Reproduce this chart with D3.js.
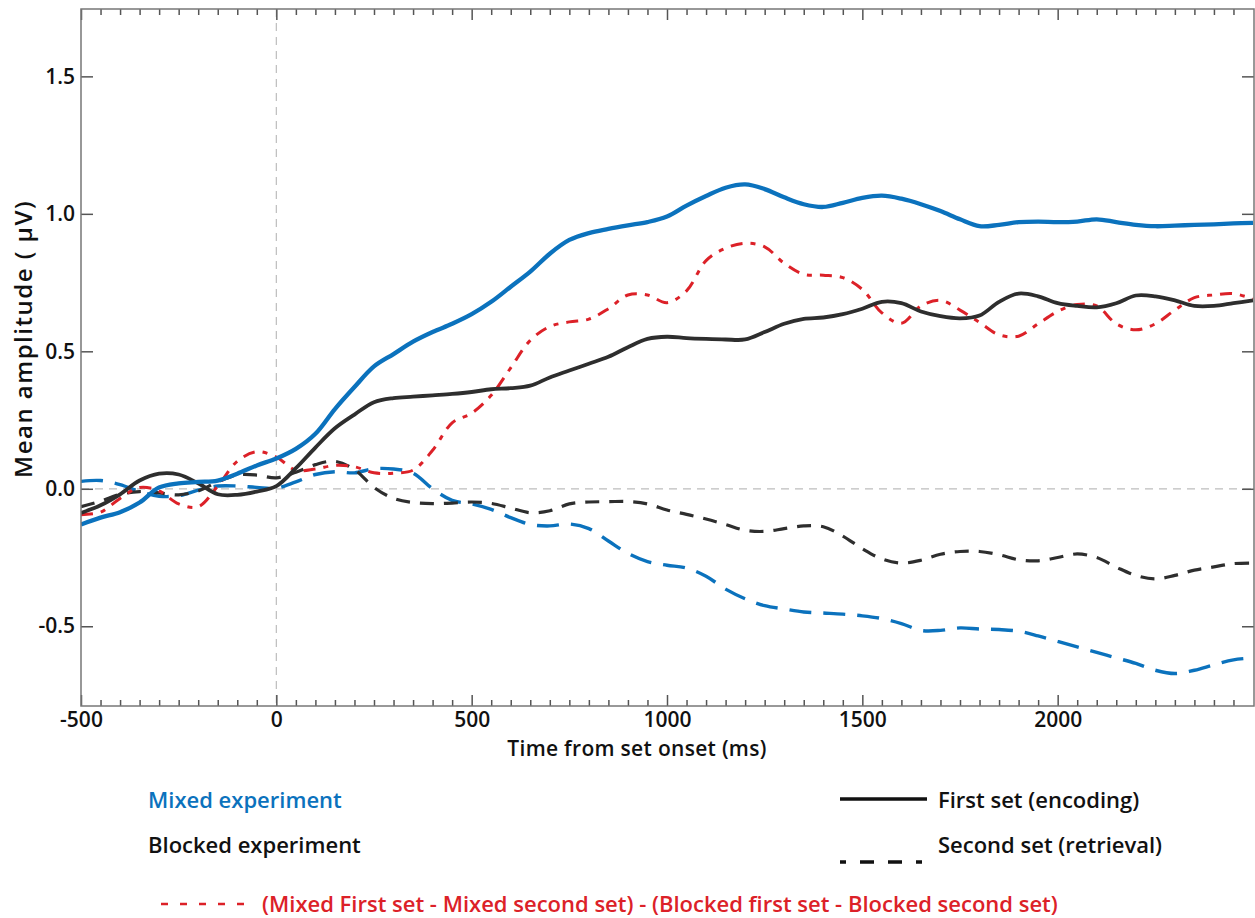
<!DOCTYPE html>
<html>
<head>
<meta charset="utf-8">
<script src="https://cdn.jsdelivr.net/npm/d3@7"></script>
<style>
  body { margin: 0; background: #fff; }
  svg { display: block; font-family: "Open Sans", "Liberation Sans", sans-serif; }
</style>
</head>
<body>
<div id="chart"></div>
<script>
// time axis (ms), sampled every 50 ms
var times = [-500, -450, -400, -350, -300, -250, -200, -150, -100, -50,
  0, 50, 100, 150, 200, 250, 300, 350, 400, 450,
  500, 550, 600, 650, 700, 750, 800, 850, 900, 950,
  1000, 1050, 1100, 1150, 1200, 1250, 1300, 1350, 1400, 1450,
  1500, 1550, 1600, 1650, 1700, 1750, 1800, 1850, 1900, 1950,
  2000, 2050, 2100, 2150, 2200, 2250, 2300, 2350, 2400, 2450, 2500];

var mixedFirst = [-0.13, -0.105, -0.085, -0.05, 0.005, 0.02, 0.025, 0.03, 0.055, 0.085,
  0.11, 0.145, 0.2, 0.29, 0.37, 0.445, 0.49, 0.535, 0.57, 0.6,
  0.635, 0.68, 0.735, 0.79, 0.855, 0.905, 0.93, 0.945, 0.958, 0.97,
  0.99, 1.03, 1.065, 1.095, 1.107, 1.09, 1.06, 1.035, 1.025, 1.04,
  1.058, 1.066, 1.055, 1.035, 1.01, 0.98, 0.955, 0.96, 0.97, 0.972,
  0.97, 0.972, 0.98, 0.97, 0.96, 0.955, 0.957, 0.96, 0.962, 0.965, 0.967];

var mixedSecond = [0.027, 0.03, 0.015, -0.01, -0.027, -0.025, -0.005, 0.01, 0.01, 0.005,
  0.002, 0.025, 0.052, 0.062, 0.058, 0.073, 0.072, 0.057, 0.0, -0.042,
  -0.055, -0.075, -0.105, -0.13, -0.135, -0.128, -0.145, -0.19, -0.235, -0.265,
  -0.278, -0.288, -0.318, -0.365, -0.4, -0.425, -0.437, -0.448, -0.452, -0.456,
  -0.462, -0.472, -0.49, -0.515, -0.515, -0.506, -0.51, -0.512, -0.518, -0.535,
  -0.555, -0.575, -0.595, -0.615, -0.635, -0.66, -0.672, -0.66, -0.64, -0.622, -0.615];

var blockedFirst = [-0.088, -0.06, -0.02, 0.03, 0.055, 0.052, 0.02, -0.02, -0.022, -0.01,
  0.01, 0.075, 0.15, 0.22, 0.27, 0.315, 0.33, 0.335, 0.34, 0.345,
  0.352, 0.362, 0.366, 0.375, 0.405, 0.43, 0.455, 0.48, 0.515, 0.545,
  0.553, 0.548, 0.545, 0.543, 0.543, 0.57, 0.6, 0.618, 0.623, 0.635,
  0.655, 0.68, 0.675, 0.645, 0.628, 0.62, 0.63, 0.68, 0.71, 0.7,
  0.675, 0.665, 0.66, 0.675, 0.703, 0.7, 0.685, 0.665, 0.665, 0.675, 0.685];

var blockedSecond = [-0.065, -0.045, -0.02, -0.01, -0.015, -0.022, -0.008, 0.025, 0.05, 0.05,
  0.04, 0.06, 0.088, 0.1, 0.07, 0.005, -0.035, -0.05, -0.054, -0.052,
  -0.048, -0.053, -0.07, -0.087, -0.08, -0.055, -0.048, -0.047, -0.046, -0.055,
  -0.077, -0.093, -0.11, -0.13, -0.151, -0.155, -0.145, -0.135, -0.138, -0.172,
  -0.218, -0.255, -0.27, -0.26, -0.238, -0.228, -0.228, -0.24, -0.258, -0.262,
  -0.25, -0.237, -0.25, -0.285, -0.315, -0.328, -0.315, -0.296, -0.284, -0.272, -0.27];

var difference = [-0.094, -0.085, -0.035, 0.005, -0.008, -0.055, -0.065, 0.01, 0.1, 0.135,
  0.115, 0.068, 0.072, 0.085, 0.08, 0.058, 0.057, 0.068, 0.14, 0.24,
  0.275, 0.34, 0.44, 0.54, 0.59, 0.607, 0.617, 0.655, 0.705, 0.705,
  0.677, 0.72, 0.83, 0.875, 0.893, 0.88, 0.82, 0.78, 0.777, 0.768,
  0.725, 0.64, 0.602, 0.665, 0.685, 0.65, 0.605, 0.56, 0.555, 0.6,
  0.645, 0.67, 0.665, 0.6, 0.578, 0.6, 0.65, 0.695, 0.705, 0.71, 0.69];

var xMajorTicks = [-500, 0, 500, 1000, 1500, 2000];
var yMajorTicks = [-0.5, 0.0, 0.5, 1.0, 1.5];

var blue = "#0b72bd", dark = "#2e2e2e", red = "#dc2128";

var W = 1255, H = 918;
var mLeft = 81, mRight = 1254, mTop = 9, mBottom = 706;

var svg = d3.select("#chart").append("svg")
  .attr("width", W)
  .attr("height", H);

var x = d3.scaleLinear().domain([-500, 2500]).range([mLeft, mRight - 1]);
var y = d3.scaleLinear().domain([-0.79, 1.745]).range([mBottom, mTop]);

svg.append("clipPath").attr("id", "clip")
  .append("rect")
  .attr("x", mLeft).attr("y", mTop)
  .attr("width", mRight - mLeft).attr("height", mBottom - mTop);

// zero reference lines
svg.append("line")
  .attr("x1", mLeft).attr("x2", mRight)
  .attr("y1", y(0)).attr("y2", y(0))
  .attr("stroke", "#bdbdbd").attr("stroke-width", 1.2)
  .attr("stroke-dasharray", "8,6");
svg.append("line")
  .attr("x1", x(0)).attr("x2", x(0))
  .attr("y1", mTop).attr("y2", mBottom)
  .attr("stroke", "#bdbdbd").attr("stroke-width", 1.2)
  .attr("stroke-dasharray", "8,6");

// curves
var series = [
  { vals: mixedSecond, color: blue, width: 3.4, dash: "22,12" },
  { vals: blockedSecond, color: dark, width: 3.2, dash: "14,10" },
  { vals: difference, color: red, width: 3, dash: "12,8,5,8" },
  { vals: blockedFirst, color: dark, width: 3.8, dash: null },
  { vals: mixedFirst, color: blue, width: 4.3, dash: null }
];

var line = d3.line()
  .x(function (d) { return x(d[0]); })
  .y(function (d) { return y(d[1]); })
  .curve(d3.curveCatmullRom.alpha(0.5));

var plot = svg.append("g").attr("clip-path", "url(#clip)");
series.forEach(function (s) {
  plot.append("path")
    .datum(times.map(function (t, i) { return [t, s.vals[i]]; }))
    .attr("fill", "none")
    .attr("stroke", s.color)
    .attr("stroke-width", s.width)
    .attr("stroke-dasharray", s.dash)
    .attr("stroke-linejoin", "round")
    .attr("d", line);
});

// axes: minor ticks every 50 ms, all ticks pointing inward
var minorX = times.filter(function (t) { return t % 500 !== 0; });

function styleAxis(g) {
  g.attr("font-family", null).attr("font-size", null);
  g.select(".domain").remove();
  g.selectAll(".tick line").attr("stroke", "#555").attr("stroke-width", 1.5);
  g.selectAll("text")
    .attr("fill", "#111")
    .attr("font-size", 21)
    .attr("font-weight", 600);
}

svg.append("g")
  .attr("transform", "translate(0," + mBottom + ")")
  .call(d3.axisBottom(x).tickValues(minorX).tickSize(-6).tickFormat(""))
  .call(styleAxis);
svg.append("g")
  .attr("transform", "translate(0," + mBottom + ")")
  .call(d3.axisBottom(x).tickValues(xMajorTicks).tickSize(-11).tickPadding(6)
    .tickFormat(function (d) { return String(d); }))
  .call(styleAxis);
svg.append("g")
  .attr("transform", "translate(0," + mTop + ")")
  .call(d3.axisTop(x).tickValues(minorX).tickSize(-6).tickFormat(""))
  .call(styleAxis);
svg.append("g")
  .attr("transform", "translate(0," + mTop + ")")
  .call(d3.axisTop(x).tickValues(xMajorTicks).tickSize(-11).tickFormat(""))
  .call(styleAxis);
svg.append("g")
  .attr("transform", "translate(" + mLeft + ",0)")
  .call(d3.axisLeft(y).tickValues(yMajorTicks).tickSize(-12).tickPadding(6)
    .tickFormat(function (d) { return d.toFixed(1); }))
  .call(styleAxis);
svg.append("g")
  .attr("transform", "translate(" + mRight + ",0)")
  .call(d3.axisRight(y).tickValues(yMajorTicks).tickSize(-12).tickFormat(""))
  .call(styleAxis);

// frame
svg.append("rect")
  .attr("x", mLeft).attr("y", mTop)
  .attr("width", mRight - mLeft).attr("height", mBottom - mTop)
  .attr("fill", "none").attr("stroke", "#777").attr("stroke-width", 1.5);

// axis titles
svg.append("text")
  .attr("x", 637).attr("y", 756)
  .attr("text-anchor", "middle")
  .attr("font-size", 21).attr("font-weight", 600).attr("fill", "#111")
  .attr("letter-spacing", 0.3)
  .text("Time from set onset (ms)");
svg.append("text")
  .attr("transform", "translate(32,339) rotate(-90)")
  .attr("text-anchor", "middle")
  .attr("font-size", 24).attr("font-weight", 600).attr("fill", "#111")
  .attr("letter-spacing", 1.5)
  .text("Mean amplitude ( \u03bcV)");

// legend
var legend = svg.append("g").attr("font-size", 22).attr("font-weight", 600);
legend.append("text").attr("x", 148).attr("y", 808).attr("fill", blue).text("Mixed experiment");
legend.append("text").attr("x", 148).attr("y", 853).attr("fill", "#111").text("Blocked experiment");

legend.append("line")
  .attr("x1", 840).attr("x2", 927).attr("y1", 799).attr("y2", 799)
  .attr("stroke", "#111").attr("stroke-width", 3.5);
legend.append("text").attr("x", 938).attr("y", 808).attr("fill", "#111").text("First set (encoding)");

legend.append("line")
  .attr("x1", 840).attr("x2", 927).attr("y1", 862).attr("y2", 862)
  .attr("stroke", "#111").attr("stroke-width", 3.5)
  .attr("stroke-dasharray", "6,14,14,14,14,14,6");
legend.append("text").attr("x", 938).attr("y", 853).attr("fill", "#111").text("Second set (retrieval)");

legend.append("line")
  .attr("x1", 161).attr("x2", 249).attr("y1", 904).attr("y2", 904)
  .attr("stroke", red).attr("stroke-width", 2.5)
  .attr("stroke-dasharray", "7,12");
legend.append("text").attr("x", 262).attr("y", 912).attr("fill", red)
  .text("(Mixed First set - Mixed second set) - (Blocked first set - Blocked second set)");
</script>
</body>
</html>
